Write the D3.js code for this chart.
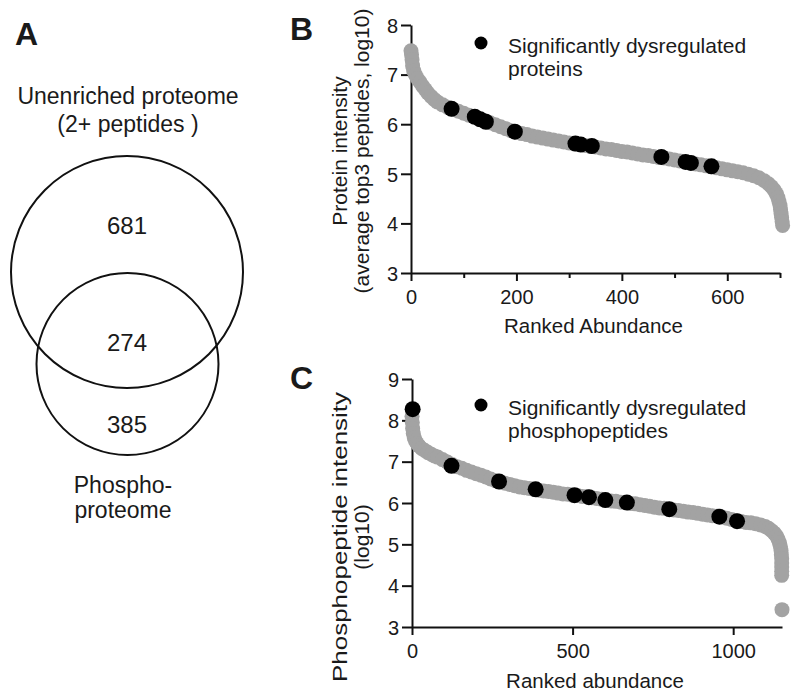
<!DOCTYPE html>
<meta charset="utf-8">
<head>
  <title>Proteome / phosphoproteome</title>
</head>
<style>
  body { margin: 0; background: #fff; }
  text { font-family: "Liberation Sans", Arial, sans-serif; fill: #1a1a1a; }
  .axis path, .axis line { stroke: #111; stroke-width: 2; }
  .axis text { font-size: 20px; fill: #1a1a1a; }
</style>
<body>
<div id="content"></div>
<script src="https://cdn.jsdelivr.net/npm/d3@7/dist/d3.min.js"></script>
<script>

// ---- panel A: venn counts
const vennCounts = [681, 274, 385];
const vennTitle = ["Unenriched proteome", "(2+ peptides )"];
const vennFoot = ["Phospho-", "proteome"];

// ---- panel B: protein intensity by rank
const bRanks = [0,1,2,3,5,8,12,17,22,27,32,38,44,50,60,70,80,90,100,110,120,130,140,150,160,170,180,190,200,
  210,220,230,240,250,260,270,280,290,300,310,320,330,340,350,360,370,380,390,400,410,420,430,440,450,460,470,
  480,490,500,510,520,530,540,550,560,570,580,590,600,610,620,630,640,650,660,670,678,684,689,693,696,698,700,
  701,702,703,704,705];
const bValues = [7.48,7.40,7.30,7.18,7.08,7.00,6.92,6.85,6.77,6.70,6.63,6.56,6.50,6.45,6.39,6.34,6.30,6.26,6.22,
  6.18,6.15,6.11,6.07,6.03,5.99,5.95,5.91,5.87,5.84,5.81,5.79,5.76,5.74,5.72,5.70,5.68,5.66,5.64,5.62,5.60,5.59,
  5.57,5.55,5.54,5.52,5.50,5.49,5.47,5.45,5.44,5.42,5.40,5.38,5.37,5.35,5.33,5.32,5.30,5.28,5.26,5.24,5.22,5.20,
  5.18,5.16,5.14,5.12,5.10,5.08,5.06,5.04,5.02,4.99,4.96,4.92,4.86,4.80,4.74,4.67,4.60,4.52,4.44,4.36,4.28,4.20,
  4.12,4.04,3.96];
const bSigRanks = [77,121,131,142,197,312,322,343,475,521,531,570];
const bSigValues = [6.31,6.15,6.10,6.05,5.85,5.61,5.59,5.56,5.34,5.24,5.22,5.15];
const bMajorTicks = [0,200,400,600];
const bMinorTicks = [100,300,500,700];

// ---- panel C: phosphopeptide intensity by rank
const cRanks = [0,1,2,4,7,11,16,22,30,40,50,60,70,80,95,110,125,140,155,170,185,200,215,230,245,260,275,290,305,
  320,335,350,365,380,395,410,425,440,455,470,485,500,515,530,545,560,575,590,605,620,635,650,665,680,695,710,725,
  740,755,770,785,800,815,830,845,860,875,890,905,920,935,950,965,980,995,1010,1025,1040,1055,1070,1085,1100,1110,
  1120,1128,1135,1140,1144,1147,1149,1150,1151,1151,1151,1151,1151,1152];
const cValues = [8.10,7.95,7.80,7.68,7.58,7.50,7.44,7.38,7.32,7.27,7.22,7.18,7.14,7.11,7.05,6.99,6.93,6.88,6.84,
  6.79,6.75,6.71,6.67,6.63,6.58,6.54,6.51,6.48,6.45,6.42,6.39,6.37,6.35,6.33,6.31,6.29,6.28,6.26,6.24,6.22,6.21,
  6.19,6.18,6.16,6.15,6.13,6.11,6.09,6.07,6.05,6.04,6.02,6.01,5.99,5.98,5.96,5.94,5.92,5.90,5.88,5.87,5.85,5.83,
  5.82,5.80,5.78,5.77,5.75,5.73,5.71,5.69,5.68,5.66,5.63,5.60,5.57,5.55,5.53,5.52,5.50,5.47,5.43,5.39,5.33,5.27,
  5.20,5.12,5.04,4.95,4.85,4.75,4.65,4.55,4.45,4.35,4.25,3.42];
const cSigRanks = [2,123,271,385,506,551,602,669,801,957,1012];
const cSigValues = [8.27,6.90,6.52,6.33,6.19,6.14,6.07,6.01,5.85,5.67,5.56];
const cMajorTicks = [0,500,1000];

const grey = "#a3a3a3";

const svg = d3.select('#content').append('svg')
  .attr('width', 800)
  .attr('height', 696);

svg.append('rect').attr('width', 800).attr('height', 696).attr('fill', '#fff');

// panel letters
[["A", 15, 45], ["B", 290, 40], ["C", 290, 389]].forEach(function(d) {
  svg.append('text').attr('x', d[1]).attr('y', d[2])
    .style('font-size', '32px').style('font-weight', 'bold').text(d[0]);
});

// ---------- A: venn
const venn = svg.append('g');
venn.append('circle').attr('cx', 127).attr('cy', 272).attr('r', 116)
  .attr('fill', 'none').attr('stroke', '#111').attr('stroke-width', 2);
venn.append('circle').attr('cx', 127.5).attr('cy', 364).attr('r', 91)
  .attr('fill', 'none').attr('stroke', '#111').attr('stroke-width', 2);

function vtext(t, x, y, size) {
  venn.append('text').attr('x', x).attr('y', y).attr('text-anchor', 'middle')
    .style('font-size', size + 'px').text(t);
}
vtext(vennTitle[0], 128, 104, 23);
vtext(vennTitle[1], 128, 132, 23);
vtext(vennCounts[0], 127, 234, 24);
vtext(vennCounts[1], 127, 351, 24);
vtext(vennCounts[2], 127, 433, 24);
vtext(vennFoot[0], 123, 493, 23);
vtext(vennFoot[1], 123, 518, 23);

// ---------- scatter panels
function panel(opt) {
  const g = svg.append('g');
  const x = d3.scaleLinear().domain(opt.xDomain).range(opt.xRange);
  const y = d3.scaleLinear().domain(opt.yDomain).range(opt.yRange);

  // minor ticks (no labels)
  if (opt.minor) {
    g.append('g').attr('class', 'axis')
      .attr('transform', 'translate(0,' + opt.yRange[0] + ')')
      .call(d3.axisBottom(x).tickValues(opt.minor).tickSize(5).tickSizeOuter(0).tickFormat(''))
      .select('.domain').remove();
  }
  const xa = g.append('g').attr('class', 'axis')
    .attr('transform', 'translate(0,' + opt.yRange[0] + ')')
    .call(d3.axisBottom(x).tickValues(opt.major).tickSize(8).tickSizeOuter(0).tickPadding(5).tickFormat(d3.format('d')));
  xa.selectAll('text').attr('dy', '0.9em');

  const ya = g.append('g').attr('class', 'axis')
    .attr('transform', 'translate(' + opt.xRange[0] + ',0)')
    .call(d3.axisLeft(y).ticks(opt.yDomain[1] - opt.yDomain[0]).tickSize(10).tickSizeOuter(0).tickPadding(3).tickFormat(d3.format('d')));
  ya.selectAll('text').attr('dy', '0.36em');

  // grey rank curve
  g.append('g').selectAll('circle')
    .data(opt.ranks.map(function(r, i) { return [r, opt.values[i]]; }))
    .enter().append('circle')
    .attr('cx', function(d) { return x(d[0]); })
    .attr('cy', function(d) { return y(d[1]); })
    .attr('r', 7.5)
    .attr('fill', grey);

  // significant ones
  g.append('g').selectAll('circle')
    .data(opt.sigRanks.map(function(r, i) { return [r, opt.sigValues[i]]; }))
    .enter().append('circle')
    .attr('cx', function(d) { return x(d[0]); })
    .attr('cy', function(d) { return y(d[1]); })
    .attr('r', 8)
    .attr('fill', '#000');

  // legend
  g.append('circle').attr('cx', 481).attr('cy', opt.legendY).attr('r', 6.5).attr('fill', '#000');
  opt.legend.forEach(function(t, i) {
    g.append('text').attr('x', 508).attr('y', opt.legendY + 10 + i * 23)
      .style('font-size', '21px').text(t);
  });

  // x title
  g.append('text').attr('x', (opt.xRange[0] + opt.xRange[1]) / 2 - 2).attr('y', opt.xTitleY)
    .attr('text-anchor', 'middle').style('font-size', '20.5px').text(opt.xTitle);

  // y title (two lines)
  opt.yTitle.forEach(function(t, i) {
    const tx = g.append('text')
      .attr('transform', 'translate(' + (347 + i * 22) + ',' + opt.yTitleMid + ') rotate(-90)')
      .attr('text-anchor', 'middle').style('font-size', '21px').text(t);
    if (opt.yTitleLen && opt.yTitleLen[i]) {
      tx.attr('textLength', opt.yTitleLen[i]).attr('lengthAdjust', 'spacingAndGlyphs');
    }
  });
}

panel({
  xDomain: [0, 700], xRange: [411, 780],
  yDomain: [3, 8], yRange: [273, 25],
  major: bMajorTicks, minor: bMinorTicks,
  ranks: bRanks, values: bValues, sigRanks: bSigRanks, sigValues: bSigValues,
  legendY: 43, legend: ["Significantly dysregulated", "proteins"],
  xTitle: "Ranked Abundance", xTitleY: 333,
  yTitle: ["Protein intensity", "(average top3 peptides, log10)"], yTitleMid: 151
});

panel({
  xDomain: [0, 1152], xRange: [412, 782],
  yDomain: [3, 9], yRange: [627, 379],
  major: cMajorTicks, minor: null,
  ranks: cRanks, values: cValues, sigRanks: cSigRanks, sigValues: cSigValues,
  legendY: 405, legend: ["Significantly dysregulated", "phosphopeptides"],
  xTitle: "Ranked abundance", xTitleY: 688,
  yTitle: ["Phosphopeptide intensity", "(log10)"], yTitleMid: 537, yTitleLen: [290, 0]
});

</script>
</body>
</html>
